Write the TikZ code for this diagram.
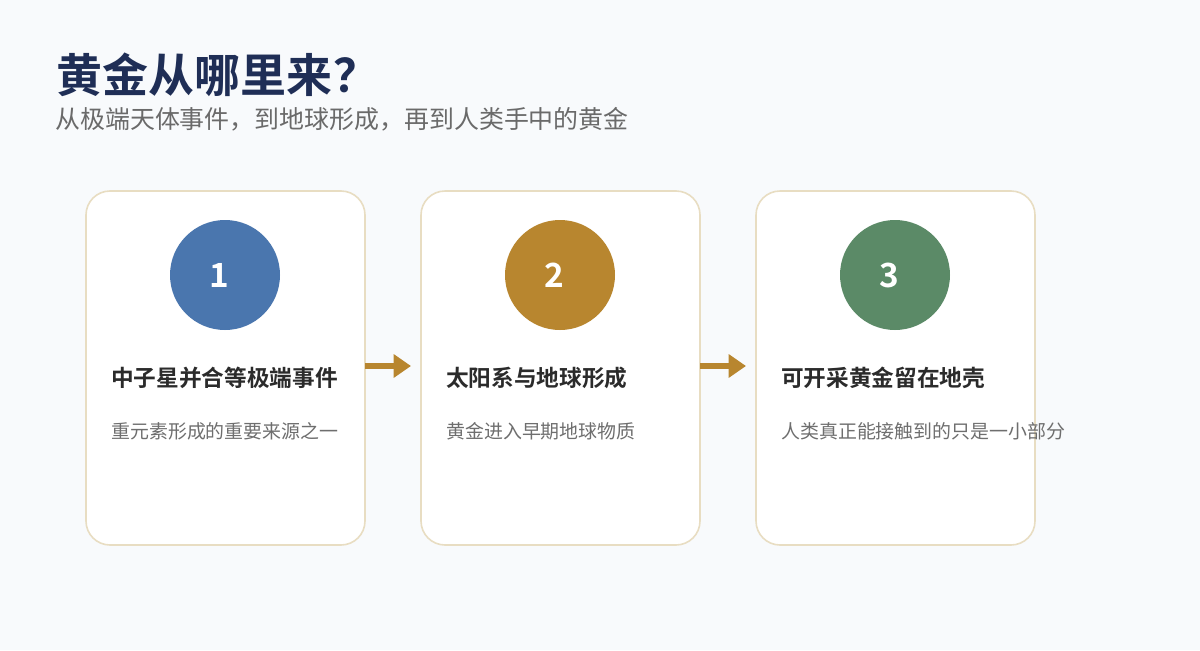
\documentclass[tikz,border=0pt]{standalone}
\usepackage{fontspec}
\setmainfont{Noto Sans CJK SC}[BoldFont={Noto Sans CJK SC Bold}]
\usetikzlibrary{arrows.meta}
\definecolor{bg}{HTML}{F8FAFC}
\definecolor{cardborder}{HTML}{E8DDC2}
\definecolor{titlecol}{HTML}{1F2E56}
\definecolor{subcol}{HTML}{6A6A6A}
\definecolor{headcol}{HTML}{2B2B2B}
\definecolor{desccol}{HTML}{6E6E6E}
\definecolor{c1}{HTML}{4A76AE}
\definecolor{c2}{HTML}{B8862F}
\definecolor{c3}{HTML}{5B8A67}
\definecolor{arrowcol}{HTML}{B8862F}
\newcommand{\numtxt}[1]{#1\kern9pt}
\begin{document}
\begin{tikzpicture}[x=0.75pt,y=-0.75pt,
  card/.style={draw=cardborder,line width=1.2pt,fill=white,rounded corners=18pt},
  numcirc/.style={circle,minimum size=82.5pt,inner sep=0pt,text=white,font=\bfseries\fontsize{25}{25}\selectfont},
  cardhead/.style={anchor=west,inner sep=0pt,text=headcol,font=\bfseries\fontsize{17}{17}\selectfont},
  carddesc/.style={anchor=west,inner sep=0pt,text=desccol,font=\fontsize{14.2}{14.2}\selectfont},
  flow/.style={draw=arrowcol,line width=4pt,-{Triangle[length=13pt,width=17pt]}}]
\fill[bg] (0,0) rectangle (1200,650);
\useasboundingbox (0,0) rectangle (1200,650);
\node[anchor=west,inner sep=0pt,text=titlecol,font=\bfseries\fontsize{34.5}{34.5}\selectfont] (title) at (56,75) {黄金从哪里来\hspace{1pt}？};
\node[anchor=west,inner sep=0pt,text=subcol,font=\fontsize{18.7}{18.7}\selectfont] (sub) at (55,119) {从极端天体事件，到地球形成，再到人类手中的黄金};
% cards
\draw[card] (86,191) rectangle (365,545);
\draw[card] (421,191) rectangle (700,545);
\draw[card] (756,191) rectangle (1035,545);
\coordinate (card1e) at (365,366);
\coordinate (card2w) at (411,366);
\coordinate (card2e) at (700,366);
\coordinate (card3w) at (746,366);
\node[numcirc,fill=c1] (n1) at (225,275) {\numtxt{1}};
\node[numcirc,fill=c2] (n2) at (560,275) {\numtxt{2}};
\node[numcirc,fill=c3] (n3) at (895,275) {\numtxt{3}};
\node[cardhead] (h1) at (111,378) {中子星并合等极端事件};
\node[cardhead] (h2) at (446,378) {太阳系与地球形成};
\node[cardhead] (h3) at (781,378) {可开采黄金留在地壳};
\node[carddesc] (d1) at (111,431) {重元素形成的重要来源之一};
\node[carddesc] (d2) at (446,431) {黄金进入早期地球物质};
\node[carddesc] (d3) at (781,431) {人类真正能接触到的只是一小部分};
\draw[flow] (card1e) -- (card2w);
\draw[flow] (card2e) -- (card3w);
\end{tikzpicture}
\end{document}
